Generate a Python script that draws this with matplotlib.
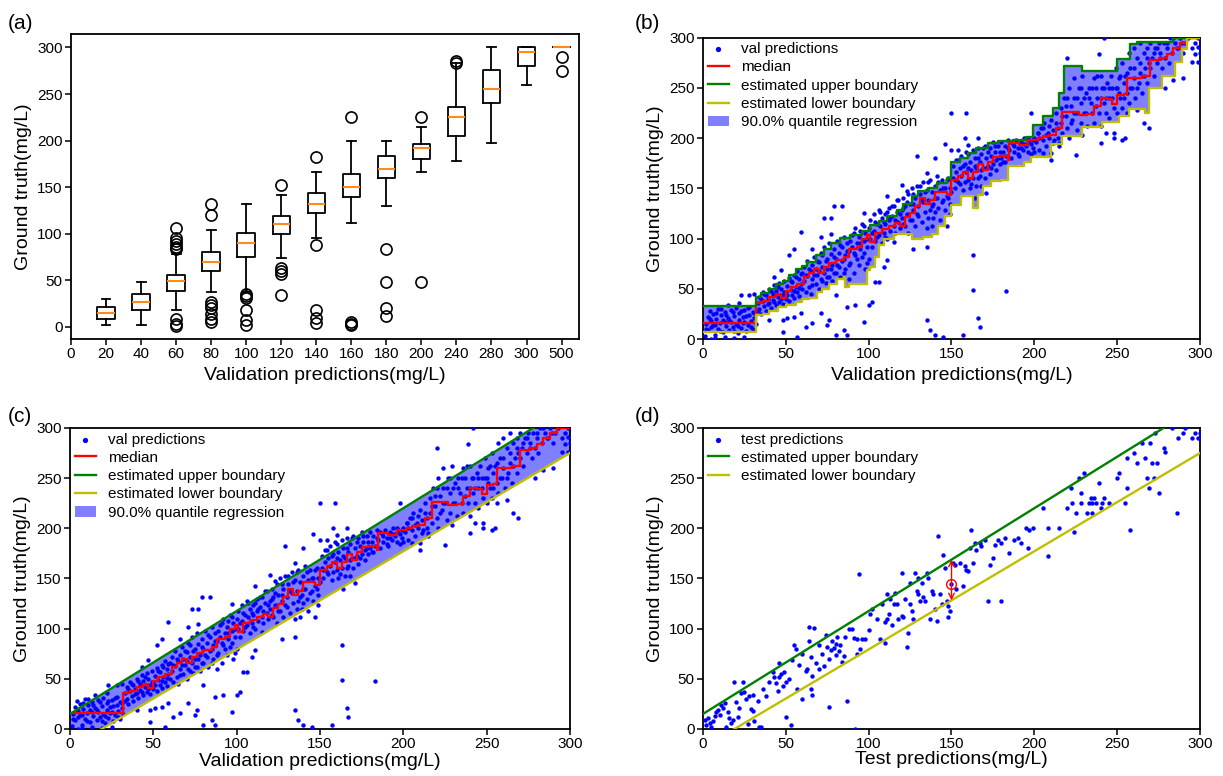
import numpy as np
import matplotlib
matplotlib.use("Agg")
import matplotlib.pyplot as plt

plt.rcParams["font.family"] = ["Liberation Sans", "DejaVu Sans"]

# ---------------- (a) box plot stats ----------------
box_labels = ["0", "20", "40", "60", "80", "100", "120", "140", "160", "180", "200", "240", "280", "300", "500"]
box_med = [15, 27, 49, 70, 90, 110, 132, 150, 170, 192, 225, 255, 295, 300]
box_q1 = [8.5, 18.5, 39, 60, 75, 100, 122, 140, 160, 180, 205, 240, 280, 300]
box_q3 = [21, 35, 56, 80, 101, 119, 144, 164, 183, 196, 236, 276, 300, 300]
box_lo = [2.5, 2.5, 18.5, 38, 38, 74, 95, 112, 130, 166, 178, 198, 260, 300]
box_hi = [30, 48, 78, 104, 132, 142, 166, 200, 200, 215, 283, 300, 300, 300]
box_fliers = [
    [],
    [],
    [106, 95, 92, 89, 86, 84, 8, 3, 1],
    [132, 120, 27, 24, 20, 14, 8, 5],
    [35, 33, 31, 18, 7, 2],
    [152, 63, 60, 57, 34],
    [182, 88, 18, 10, 4],
    [225, 5, 3, 2],
    [84, 48, 20, 12],
    [225, 48],
    [285, 283],
    [],
    [],
    [290, 275],
]

# ---------------- (b)/(c) validation predictions ----------------
val_points = [
    (1, 3), (2, 15), (3, 22), (3, 9), (4, 28), (5, 12), (5, 18), (6, 25), (7, 4), (7, 14),
    (8, 20), (9, 30), (9, 10), (10, 16), (11, 24), (12, 7), (12, 19), (13, 27), (14, 13), (15, 21),
    (15, 34), (16, 9), (17, 17), (17, 29), (18, 12), (19, 23), (20, 15), (20, 31), (21, 6), (22, 19),
    (22, 26), (23, 11), (24, 22), (25, 17), (25, 29), (26, 8), (27, 14), (28, 24), (28, 32), (29, 18),
    (30, 10), (30, 27), (31, 21), (32, 15),
    (2, 10), (4, 20), (6, 14), (8, 26), (10, 8), (11, 30), (13, 17), (14, 24), (16, 19), (18, 27),
    (19, 8), (21, 13), (23, 28), (24, 16), (26, 23), (27, 31), (29, 12), (31, 26),
    (23, 44), (28, 44), (31, 45), (22, 36), (7, 1), (13, 2), (19, 1), (25, 2), (5, 0),
    (33, 36), (34, 30), (34, 42), (35, 25), (36, 38), (36, 47), (37, 33), (38, 44), (38, 28), (39, 40),
    (40, 36), (40, 50), (41, 31), (42, 45), (42, 39), (43, 54), (44, 34), (44, 48), (45, 42), (46, 56),
    (46, 37), (47, 50), (48, 44), (48, 35), (49, 58), (50, 47), (50, 40), (51, 53), (52, 38), (52, 61),
    (53, 49), (54, 44), (54, 57), (55, 64), (55, 41), (56, 52), (57, 47), (57, 68), (58, 60), (58, 43),
    (59, 55), (60, 66), (60, 50),
    (33, 28), (35, 40), (37, 45), (39, 35), (41, 48), (43, 37), (45, 52), (47, 40), (49, 47), (51, 44),
    (53, 58), (55, 48), (56, 62), (58, 51), (59, 65),
    (40, 19), (43, 62), (47, 69), (48, 19), (48, 7), (51, 21), (52, 84), (55, 90), (55, 22), (57, 2),
    (59, 107), (59, 26), (62, 12),
    (61, 58), (61, 72), (62, 47), (63, 63), (63, 78), (64, 52), (65, 68), (65, 45), (66, 74), (66, 60),
    (67, 82), (68, 55), (68, 70), (69, 64), (70, 77), (70, 50), (71, 60), (71, 86), (72, 72), (73, 66),
    (73, 92), (74, 56), (75, 80), (75, 70), (76, 96), (76, 62), (77, 85), (78, 74), (78, 58), (79, 90),
    (80, 80), (80, 66), (81, 98), (82, 72), (82, 86), (83, 62), (84, 92), (84, 78), (85, 102), (86, 70),
    (86, 84), (87, 96), (88, 60), (88, 88), (89, 76), (90, 104), (90, 92), (91, 66), (92, 84), (92, 110),
    (93, 96), (94, 74), (94, 102), (95, 90), (96, 114), (96, 82), (97, 98), (98, 106), (98, 70), (99, 92),
    (100, 110), (100, 80),
    (62, 64), (64, 70), (66, 54), (67, 64), (69, 78), (70, 68), (72, 58), (72, 84), (74, 78), (75, 62),
    (77, 70), (79, 66), (79, 82), (81, 74), (83, 94), (85, 80), (85, 66), (87, 88), (88, 74), (89, 98),
    (91, 86), (91, 106), (93, 80), (95, 108), (95, 96), (97, 86), (97, 112), (99, 100), (99, 76),
    (66, 90), (66, 16), (71, 102), (71, 26), (73, 120), (75, 14), (76, 19), (77, 105), (77, 120), (79, 132),
    (80, 44), (80, 4), (84, 132), (85, 9), (87, 4), (87, 32), (92, 34), (97, 17), (100, 34), (102, 37),
    (104, 57), (106, 57), (97, 125),
    (101, 100), (101, 118), (102, 92), (103, 108), (103, 124), (104, 98), (105, 114), (106, 104), (106, 128), (107, 112),
    (108, 96), (108, 120), (109, 106), (110, 124), (110, 114), (111, 100), (112, 118), (112, 130), (113, 108), (114, 122),
    (115, 112), (115, 132), (116, 106), (117, 126), (118, 116), (118, 138), (119, 110), (120, 128), (120, 120), (121, 140),
    (122, 112), (122, 132), (123, 124), (124, 144), (124, 106), (125, 134), (126, 118), (126, 150), (127, 128), (128, 140),
    (128, 112), (129, 152), (130, 132), (130, 122), (131, 144), (132, 116), (133, 156), (133, 136), (134, 126), (135, 148),
    (135, 110), (136, 138), (137, 158), (137, 128), (138, 146), (139, 120), (139, 134), (140, 152), (141, 140), (141, 162),
    (142, 130), (143, 148), (143, 118), (144, 158), (145, 138), (146, 150), (146, 128), (147, 142), (148, 160), (149, 134),
    (149, 150), (150, 146),
    (102, 106), (104, 116), (105, 102), (107, 126), (109, 116), (110, 102), (111, 126), (113, 120), (114, 132), (116, 118),
    (117, 138), (119, 124), (121, 114), (121, 130), (123, 136), (125, 118), (127, 144), (127, 134), (129, 124), (131, 152),
    (132, 138), (134, 146), (136, 120), (136, 156), (138, 132), (140, 140), (140, 126), (142, 156), (144, 136), (145, 150),
    (147, 158), (148, 140), (149, 124),
    (109, 72), (111, 79), (111, 142), (115, 97), (120, 153), (123, 147), (127, 90), (129, 182), (135, 165), (135, 92),
    (135, 19), (137, 9), (138, 112), (140, 4), (140, 180), (145, 2), (146, 194), (147, 112),
    (151, 160), (151, 172), (152, 150), (153, 166), (154, 178), (154, 156), (155, 170), (156, 162), (156, 182), (157, 148),
    (158, 174), (159, 166), (159, 186), (160, 158), (161, 176), (161, 150), (162, 168), (163, 188), (163, 160), (164, 180),
    (165, 170), (165, 152), (166, 190), (167, 176), (167, 162), (168, 184), (169, 170), (170, 192), (170, 160), (171, 180),
    (172, 172), (173, 190), (173, 164), (174, 182), (175, 196), (175, 174), (176, 186), (177, 168), (178, 192), (178, 180),
    (179, 174), (180, 196), (181, 186), (181, 176), (182, 192), (183, 182), (184, 198), (185, 188), (186, 180), (187, 194),
    (188, 186), (189, 198), (190, 190), (191, 182), (192, 196), (193, 188), (194, 200), (195, 192), (196, 186), (197, 198),
    (198, 194), (199, 190), (200, 200), (200, 186),
    (152, 158), (153, 178), (155, 154), (157, 172), (158, 156), (160, 184), (160, 170), (162, 154), (164, 172), (166, 160),
    (166, 180), (168, 168), (169, 190), (171, 170), (172, 186), (174, 170), (176, 192), (177, 178), (179, 186), (180, 180),
    (182, 176), (184, 190), (186, 196), (188, 192), (190, 184), (192, 190), (194, 194), (196, 196), (198, 184), (199, 198),
    (150, 225), (150, 188), (154, 188), (158, 200), (159, 225), (157, 4), (160, 193), (163, 84), (163, 49), (166, 200),
    (166, 21), (167, 12), (183, 48), (164, 140), (171, 145), (168, 152),
    (201, 196), (202, 205), (203, 188), (204, 210), (205, 198), (206, 215), (207, 192), (208, 205), (209, 200), (210, 218),
    (210, 185), (211, 208), (212, 198), (213, 225), (214, 210), (215, 195), (216, 230), (216, 215), (217, 205), (218, 240),
    (219, 222), (220, 210), (221, 250), (221, 200), (222, 232), (223, 218), (224, 260), (224, 240), (225, 225), (226, 208),
    (227, 250), (228, 235), (228, 215), (229, 262), (230, 225), (231, 245), (232, 212), (233, 250), (234, 235), (235, 225),
    (236, 260), (236, 215), (237, 250), (238, 240), (239, 225), (240, 262), (240, 212), (241, 250), (242, 235), (243, 225),
    (244, 255), (245, 240), (245, 220), (246, 262), (247, 250), (248, 230), (249, 270), (250, 250), (250, 225), (251, 260),
    (252, 240), (253, 275), (253, 230), (254, 255), (255, 262), (256, 245), (257, 285), (257, 235), (258, 270), (259, 250),
    (260, 290), (260, 260), (261, 240), (262, 280), (263, 255), (264, 295), (264, 265), (265, 245), (266, 285), (267, 270),
    (268, 290), (268, 255), (269, 275), (270, 295), (271, 280), (272, 262), (273, 290), (274, 275), (275, 295), (276, 285),
    (277, 270), (278, 295), (279, 280), (280, 290), (281, 275), (282, 300), (283, 285), (285, 295), (287, 290), (288, 300),
    (290, 285), (291, 295), (293, 300), (295, 290), (297, 295), (299, 300), (300, 285),
    (203, 200), (205, 210), (207, 203), (209, 212), (211, 195), (213, 215), (214, 200), (217, 222), (219, 232), (220, 240),
    (222, 215), (224, 225), (226, 240), (228, 250), (230, 240), (231, 225), (233, 240), (235, 250), (237, 232), (238, 262),
    (240, 240), (242, 250), (243, 240), (245, 250), (247, 240), (249, 250), (251, 245), (252, 262), (254, 240), (256, 265),
    (258, 250), (260, 270), (262, 250), (264, 275), (266, 262), (268, 280), (270, 270), (272, 285), (274, 290), (276, 280),
    (280, 295), (284, 300), (286, 290), (289, 295),
    (196, 200), (198, 225), (202, 205), (205, 185), (210, 178), (215, 192), (220, 280), (225, 183), (229, 203), (239, 284),
    (242, 300), (243, 205), (248, 205), (253, 198), (255, 200), (256, 225), (262, 228), (266, 215), (269, 210), (279, 250),
    (284, 258), (290, 260), (297, 284), (299, 276), (295, 276), (299, 291), (240, 195), (248, 200),
]

# step curves of panel (b): x where a level starts, and the level
up_x = [0, 32, 35, 40, 44, 48, 52, 56, 60, 63, 68, 73, 77, 83, 89, 96, 101, 106, 111, 117,
        121, 126, 130, 136, 141, 147, 150, 155, 160, 165, 172, 178, 187, 195, 199, 205, 211, 215, 218, 229,
        250, 258, 262, 284]
up_y = [33, 42, 46, 50, 55, 58, 64, 70, 73, 77, 84, 90, 96, 101, 104, 108, 113, 117, 122, 128,
        134, 142, 147, 150, 155, 160, 176, 180, 185, 190, 195, 197, 198, 201, 213, 222, 230, 245, 272, 267,
        279, 294, 296, 300]
med_x = [0, 32, 36, 40, 44, 47, 50, 53, 57, 61, 64, 67, 70, 73, 76, 80, 85, 88, 93, 96,
         99, 101, 104, 108, 112, 116, 119, 122, 125, 128, 131, 134, 137, 140, 144, 147, 150, 154, 157, 160,
         163, 166, 169, 172, 175, 179, 184, 185, 191, 196, 202, 205, 209, 213, 217, 222, 227, 232, 236, 240,
         244, 247, 250, 254, 256, 262, 265, 270, 276, 280, 284, 288, 292]
med_y = [16, 36, 38, 42, 45, 41, 48, 52, 55, 62, 66, 70, 66, 72, 76, 79, 82, 90, 92, 100,
         104, 97, 106, 109, 112, 115, 112, 121, 125, 132, 140, 134, 138, 146, 146, 143, 158, 162, 166, 160,
         166, 174, 168, 176, 181, 182, 178, 195, 193, 198, 200, 202, 203, 210, 226, 226, 223, 224, 232, 240,
         239, 234, 243, 244, 260, 260, 262, 278, 280, 284, 290, 295, 300]
lo_x = [0, 32, 36, 40, 45, 50, 56, 60, 64, 69, 72, 76, 81, 85, 86, 88, 97, 99, 101, 104,
        106, 109, 115, 126, 133, 138, 142, 146, 150, 156, 163, 166, 169, 174, 180, 184, 194, 198, 210, 217,
        229, 241, 251, 257, 267, 269, 277, 285, 289, 292]
lo_y = [7, 24, 25, 28, 32, 34, 37, 40, 41, 47, 50, 55, 60, 62, 52, 55, 55, 69, 72, 82,
        94, 100, 105, 100, 102, 105, 112, 122, 133, 142, 130, 143, 152, 157, 158, 172, 176, 181, 194, 202,
        211, 216, 222, 229, 225, 250, 262, 276, 289, 300]

# (c)/(d) straight boundaries, two points
upper_line = ([0, 278], [15, 300])
lower_line = ([19, 300], [0, 275])

# ---------------- (d) test predictions ----------------
test_points = [
    (1, 9), (2, 4), (3, 11), (4, 6), (5, 2), (6, 8), (7, 13), (8, 17), (9, 19), (10, 14),
    (11, 24), (12, 21), (13, 26), (14, 2), (15, 17), (16, 11), (17, 6), (18, 9), (19, 47), (20, 27),
    (21, 12), (22, 21), (23, 36), (24, 47), (25, 37), (26, 30), (27, 5), (28, 33), (29, 20), (30, 18),
    (30, 34), (31, 8), (33, 28), (34, 2), (35, 2), (36, 40), (38, 33), (40, 47), (42, 57), (43, 52),
    (44, 46), (45, 38), (46, 52), (46, 66), (47, 55), (48, 43), (49, 57), (50, 47), (50, 12), (52, 50),
    (53, 4), (54, 69), (55, 84), (56, 80), (57, 40), (58, 64), (60, 75), (60, 30), (62, 58), (63, 60),
    (64, 88), (64, 102), (65, 72), (65, 40), (66, 34), (66, 53), (67, 101), (68, 66), (70, 60), (70, 84),
    (72, 75), (73, 63), (74, 94), (75, 82), (76, 22), (76, 70), (77, 79), (78, 88), (79, 81), (80, 74),
    (80, 85), (81, 92), (82, 78), (83, 84), (84, 67), (85, 73), (86, 92), (87, 28), (88, 100), (90, 100),
    (91, 91), (92, 0), (93, 75), (93, 90), (94, 154), (95, 80), (96, 90), (98, 90), (100, 99), (101, 115),
    (102, 120), (105, 110), (107, 90), (108, 125), (110, 86), (110, 107), (111, 135), (111, 110), (112, 115), (113, 130),
    (114, 104), (115, 125), (116, 136), (117, 125), (118, 110), (120, 155), (120, 113), (121, 112), (122, 130), (123, 82),
    (124, 96), (125, 145), (125, 125), (126, 118), (127, 110), (128, 155), (129, 138), (130, 150), (130, 135), (131, 128),
    (132, 145), (133, 132), (134, 128), (135, 155), (136, 150), (137, 110), (138, 138), (139, 135), (140, 120), (141, 108),
    (142, 192), (143, 135), (144, 125), (145, 173), (146, 160), (147, 128), (148, 123), (148, 112), (149, 118), (150, 144),
    (151, 165), (152, 163), (153, 140), (155, 165), (157, 142), (158, 162), (159, 158), (160, 157), (161, 180), (162, 198),
    (163, 165), (164, 185), (165, 178), (167, 185), (168, 182), (170, 188), (172, 128), (173, 163), (175, 170), (176, 183),
    (178, 188), (180, 185), (180, 128), (182, 190), (185, 175), (188, 188), (190, 190), (192, 185), (195, 200), (196, 180),
    (197, 198), (199, 200), (205, 220), (208, 172), (208, 200), (215, 200), (220, 220), (222, 240), (223, 225), (224, 196),
    (225, 215), (227, 250), (228, 235), (228, 225), (230, 255), (232, 215), (233, 225), (234, 230), (235, 215), (235, 225),
    (236, 230), (237, 225), (239, 245), (240, 220), (241, 225), (242, 230), (245, 225), (250, 250), (251, 255), (255, 225),
    (256, 240), (258, 198), (256, 270), (260, 275), (262, 265), (265, 285), (267, 270), (268, 250), (269, 240), (270, 285),
    (271, 265), (272, 250), (273, 295), (274, 265), (275, 235), (278, 280), (279, 276), (283, 300), (286, 215), (287, 290),
    (290, 295), (291, 300), (295, 290), (297, 295), (299, 290), (300, 295),
]
marked_point = (150, 144)


def stairs(xs, ys, xmax=300):
    px, py = [], []
    for i in range(len(xs)):
        x1 = xs[i + 1] if i + 1 < len(xs) else xmax
        px += [xs[i], x1]
        py += [ys[i], ys[i]]
    return px, py


def line_through(pts, xx):
    (x0, x1), (y0, y1) = pts
    return y0 + (y1 - y0) / (x1 - x0) * (np.asarray(xx) - x0)


fig = plt.figure(figsize=(12.23, 7.76), dpi=100)
ax_a = fig.add_axes([0.0581, 0.5631, 0.4154, 0.3937])
ax_b = fig.add_axes([0.5748, 0.5631, 0.4064, 0.3885])
ax_c = fig.add_axes([0.0572, 0.0606, 0.4088, 0.3879])
ax_d = fig.add_axes([0.5748, 0.0606, 0.4064, 0.3879])

label_fs = 14
tick_fs = 11
leg_fs = 11
dot_size = 10

for ax in (ax_a, ax_b, ax_c, ax_d):
    for sp in ax.spines.values():
        sp.set_linewidth(1.3)
    ax.tick_params(direction="out", length=4, width=1.1, labelsize=tick_fs, pad=2)

# ---- (a)
stats = []
for i in range(len(box_med)):
    stats.append(dict(med=box_med[i], q1=box_q1[i], q3=box_q3[i],
                      whislo=box_lo[i], whishi=box_hi[i], fliers=box_fliers[i]))
ax_a.bxp(stats, positions=range(1, len(box_med) + 1), widths=0.5,
         boxprops=dict(color="k", lw=1.3), whiskerprops=dict(color="k", lw=1.3),
         capprops=dict(color="k", lw=1.3), medianprops=dict(color="#ff8c1a", lw=1.5),
         flierprops=dict(marker="o", markerfacecolor="none", markeredgecolor="k",
                         markersize=8, markeredgewidth=1.2))
ax_a.set_xticks(range(len(box_labels)))
ax_a.set_xticklabels(box_labels)
ax_a.set_xlim(0, 14.5)
ax_a.set_ylim(-13, 315)
ax_a.set_yticks([0, 50, 100, 150, 200, 250, 300])
ax_a.set_xlabel("Validation predictions(mg/L)", fontsize=label_fs, labelpad=4)
ax_a.set_ylabel("Ground truth(mg/L)", fontsize=label_fs, labelpad=4)

vx = [p[0] for p in val_points]
vy = [p[1] for p in val_points]
tx = [p[0] for p in test_points]
ty = [p[1] for p in test_points]

# ---- (b)
ux, uy = stairs(up_x, up_y)
lx, ly = stairs(lo_x, lo_y)
mx, my = stairs(med_x, med_y)
ax_b.fill(ux + lx[::-1], uy + ly[::-1], color="b", alpha=0.5, lw=0,
          label="90.0% quantile regression")
ax_b.scatter(vx, vy, s=dot_size, color="b", lw=0, label="val predictions", zorder=3)
ax_b.plot(mx, my, color="r", lw=1.7, label="median", zorder=4)
ax_b.plot(ux, uy, color="g", lw=1.7, label="estimated upper boundary", zorder=4)
ax_b.plot(lx, ly, color="y", lw=1.7, label="estimated lower boundary", zorder=4)

# ---- (c)
xx = np.linspace(0, 300, 301)
ax_c.fill_between(xx, line_through(lower_line, xx), line_through(upper_line, xx),
                  color="b", alpha=0.5, lw=0, label="90.0% quantile regression")
ax_c.scatter(vx, vy, s=dot_size, color="b", lw=0, label="val predictions", zorder=3)
ax_c.plot(mx, my, color="r", lw=1.7, label="median", zorder=4)
ax_c.plot(xx, line_through(upper_line, xx), color="g", lw=1.7, label="estimated upper boundary", zorder=4)
ax_c.plot(xx, line_through(lower_line, xx), color="y", lw=1.7, label="estimated lower boundary", zorder=4)

# ---- (d)
ax_d.scatter(tx, ty, s=dot_size, color="b", lw=0, label="test predictions", zorder=3)
ax_d.plot(xx, line_through(upper_line, xx), color="g", lw=1.7, label="estimated upper boundary", zorder=4)
ax_d.plot(xx, line_through(lower_line, xx), color="y", lw=1.7, label="estimated lower boundary", zorder=4)
mxp, myp = marked_point
ax_d.plot([mxp], [myp], marker="o", ms=7, mfc="none", mec="r", mew=1.0, zorder=5)
ax_d.annotate("", xy=(mxp, line_through(upper_line, mxp)), xytext=(mxp, line_through(lower_line, mxp)),
              arrowprops=dict(arrowstyle="<->", color="r", lw=1.0, shrinkA=0, shrinkB=0), zorder=5)

order_bc = ["val predictions", "median", "estimated upper boundary",
            "estimated lower boundary", "90.0% quantile regression"]
for ax, xl, lp in ((ax_b, "Validation predictions(mg/L)", 4),
                   (ax_c, "Validation predictions(mg/L)", 1),
                   (ax_d, "Test predictions(mg/L)", 0)):
    ax.set_xlim(0, 300)
    ax.set_ylim(0, 300)
    ax.set_xticks([0, 50, 100, 150, 200, 250, 300])
    ax.set_yticks([0, 50, 100, 150, 200, 250, 300])
    ax.set_xlabel(xl, fontsize=label_fs, labelpad=lp)
    ax.set_ylabel("Ground truth(mg/L)", fontsize=label_fs, labelpad=4)

leg_kw = dict(loc="upper left", frameon=False, fontsize=leg_fs, handlelength=1.4,
              handletextpad=0.8, labelspacing=0.28, borderaxespad=0.1, borderpad=0.2,
              scatterpoints=1, markerscale=1.2)
for ax in (ax_b, ax_c):
    h, l = ax.get_legend_handles_labels()
    d = dict(zip(l, h))
    ax.legend([d[k] for k in order_bc], order_bc, **leg_kw)
ax_d.legend(**leg_kw)

for txt, x, y in (("(a)", 0.006, 0.982), ("(b)", 0.519, 0.982), ("(c)", 0.006, 0.476), ("(d)", 0.519, 0.476)):
    fig.text(x, y, txt, fontsize=15, ha="left", va="top")

fig.savefig("out.png", dpi=100)
